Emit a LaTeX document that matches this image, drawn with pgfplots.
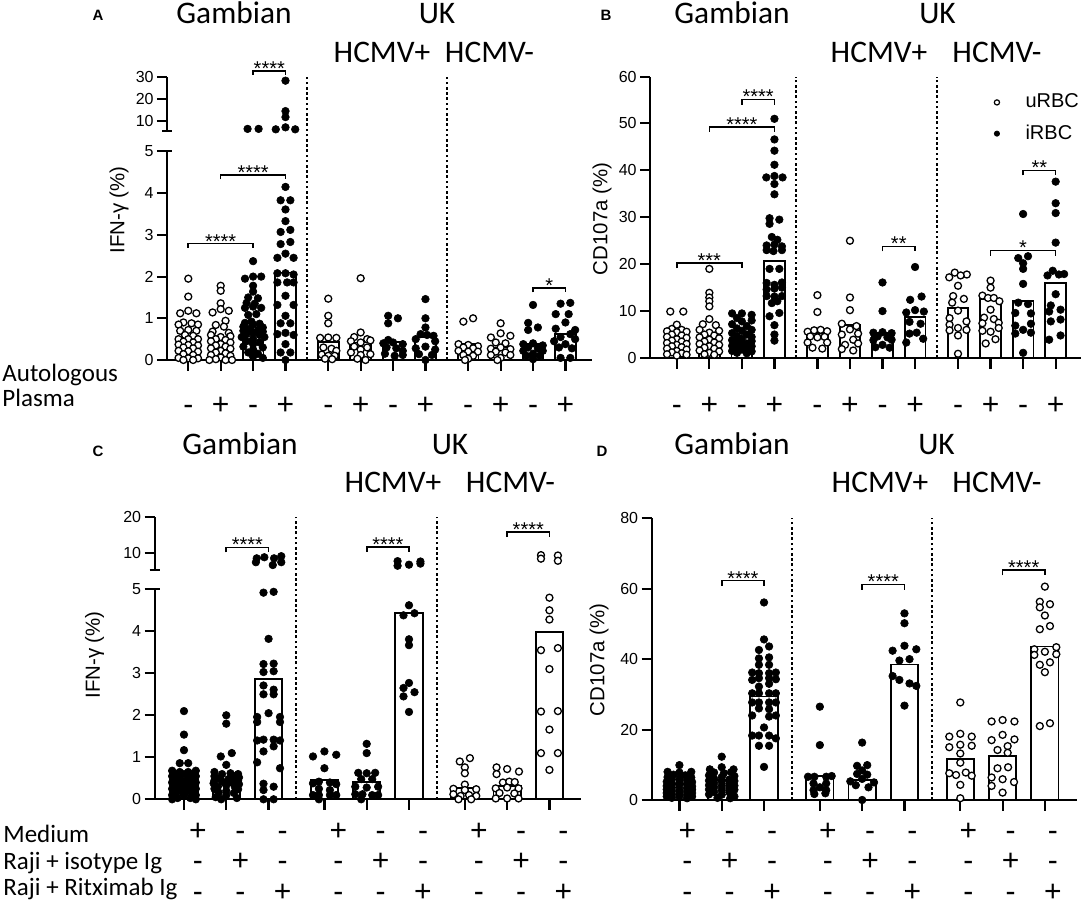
\documentclass[border=0pt]{standalone}
\usepackage{fontspec}
\setmainfont{Liberation Sans}
\newfontfamily\calfont{Carlito}
\usepackage{pgfplots}
\usepackage{pgfplotstable}
\pgfplotsset{compat=1.18}

\newcommand\ttlf{\calfont\fontsize{15.7}{18}\selectfont}
\newcommand\rowf{\calfont\fontsize{12.5}{14}\selectfont}
\newcommand\pmf{\fontsize{15}{17}\selectfont}
\newcommand\tickf{\fontsize{8}{9}\selectfont}
\newcommand\labf{\fontsize{10.2}{12}\selectfont}
\newcommand\starf{\fontsize{10}{12}\selectfont}

% c = category position, d = horizontal jitter, y = value
\pgfplotstableread{
c d y
0 0 1.95
0 0 1.52
0 -0.25 1.12
0 0 1.18
0 0.25 1.12
0 -0.15 0.9
0 0.1 0.88
0 0.3 0.85
0 -0.3 0.85
0 0 0.72
0 -0.25 0.7
0 0.25 0.7
0 -0.1 0.6
0 0.15 0.58
0 -0.3 0.5
0 0 0.5
0 0.3 0.5
0 -0.15 0.44
0 0.15 0.42
0 -0.3 0.37
0 0 0.36
0 0.3 0.35
0 -0.15 0.3
0 0.15 0.28
0 -0.3 0.22
0 0 0.21
0 0.3 0.2
0 -0.15 0.14
0 0.15 0.12
0 -0.3 0.05
0 0 0.04
0 0.3 0.04
0 -0.15 0.0
0 0.15 0.0
1 0 1.78
1 0 1.66
1 0 1.36
1 0 1.22
1 -0.25 1.14
1 0.25 1.18
1 0.15 0.94
1 -0.15 0.84
1 0.1 0.8
1 -0.25 0.68
1 0.25 0.65
1 -0.3 0.6
1 0.3 0.57
1 0 0.55
1 -0.15 0.5
1 0.15 0.48
1 -0.3 0.45
1 0.3 0.42
1 0 0.38
1 -0.15 0.35
1 0.15 0.32
1 -0.3 0.28
1 0.3 0.27
1 0 0.22
1 -0.15 0.18
1 0.15 0.16
1 -0.3 0.12
1 0.3 0.1
1 0 0.06
1 -0.15 0.02
1 0.15 0.0
1 -0.35 0.0
1 0.35 0.0
4.32 0 1.47
4.32 0 1.06
4.32 0 0.88
4.32 -0.25 0.53
4.32 0 0.54
4.32 0.25 0.53
4.32 -0.15 0.3
4.32 0.1 0.27
4.32 0.25 0.22
4.32 -0.2 0.13
4.32 0 0.1
4.32 0.2 0.1
4.32 -0.1 0.03
4.32 0.12 0.02
5.32 0 1.96
5.32 0 0.66
5.32 -0.2 0.55
5.32 0.2 0.5
5.32 -0.3 0.45
5.32 0 0.42
5.32 0.3 0.47
5.32 -0.2 0.32
5.32 0.2 0.3
5.32 0 0.25
5.32 -0.3 0.18
5.32 0.3 0.14
5.32 0 0.12
5.32 -0.1 0.03
5.32 0.15 0.0
8.64 -0.15 0.92
8.64 0.15 1.0
8.64 -0.3 0.38
8.64 0 0.36
8.64 0.3 0.33
8.64 -0.15 0.3
8.64 0.15 0.28
8.64 -0.3 0.22
8.64 0 0.2
8.64 0.3 0.2
8.64 -0.15 0.12
8.64 0.15 0.1
8.64 0 0.03
8.64 -0.1 0.0
9.64 0 0.88
9.64 0 0.64
9.64 0.3 0.58
9.64 -0.3 0.54
9.64 -0.15 0.42
9.64 0.15 0.4
9.64 0 0.3
9.64 -0.3 0.27
9.64 0.3 0.26
9.64 -0.15 0.2
9.64 0.15 0.18
9.64 -0.3 0.12
9.64 0.3 0.12
9.64 0 0.05
9.64 -0.1 0.0
}\Aopen

\pgfplotstableread{
c d y
2 -0.17 6.5
2 0.17 6.5
2 0 2.37
2 -0.25 1.95
2 0 2.0
2 0.25 2.0
2 0 1.78
2 0 1.64
2 -0.15 1.5
2 0.15 1.48
2 -0.2 1.37
2 0.05 1.35
2 -0.25 1.25
2 0 1.28
2 0.25 1.25
2 -0.15 1.08
2 0.1 1.1
2 -0.25 0.89
2 -0.05 0.92
2 0.2 0.87
2 0 0.85
2 -0.3 0.8
2 0.3 0.78
2 -0.1 0.75
2 0.15 0.72
2 -0.3 0.7
2 0.3 0.68
2 0 0.65
2 -0.2 0.62
2 0.2 0.6
2 -0.35 0.55
2 0.35 0.55
2 0 0.5
2 -0.2 0.45
2 0.2 0.42
2 0 0.38
2 -0.3 0.32
2 0.3 0.3
2 0 0.25
2 -0.15 0.18
2 0.15 0.15
2 0 0.08
2 0.3 0.05
3 0 28.2
3 0 14.5
3 0 11.8
3 -0.3 6.3
3 0 7.2
3 0.3 6.3
3 0 4.15
3 -0.15 3.83
3 0.15 3.83
3 0 3.61
3 0 3.33
3 -0.15 3.07
3 0.15 3.12
3 -0.15 2.78
3 0.15 2.83
3 -0.25 2.45
3 0 2.55
3 0.25 2.45
3 -0.25 2.08
3 0 2.08
3 0.25 2.05
3 -0.25 1.86
3 0.05 1.86
3 0.25 1.86
3 0 1.54
3 -0.25 1.32
3 0.25 1.32
3 0 1.06
3 -0.15 0.88
3 0.15 0.88
3 -0.25 0.62
3 0 0.65
3 0.25 0.6
3 0 0.38
3 -0.15 0.18
3 0.15 0.18
3 0 0.0
6.32 -0.15 1.06
6.32 0.15 1.0
6.32 -0.15 0.88
6.32 -0.15 0.48
6.32 -0.3 0.4
6.32 0 0.42
6.32 0.3 0.38
6.32 -0.2 0.3
6.32 0.1 0.28
6.32 0.3 0.22
6.32 -0.25 0.15
6.32 0.05 0.1
6.32 0.3 0.12
7.32 0 1.46
7.32 0 1.0
7.32 0 0.78
7.32 -0.15 0.62
7.32 0.05 0.6
7.32 0.25 0.58
7.32 -0.3 0.5
7.32 0.3 0.45
7.32 0 0.32
7.32 -0.3 0.28
7.32 0.3 0.25
7.32 -0.2 0.14
7.32 0.2 0.12
7.32 0 0.0
10.64 0 1.32
10.64 -0.15 0.89
10.64 0.15 0.78
10.64 -0.15 0.72
10.64 0 0.4
10.64 -0.3 0.38
10.64 0.3 0.35
10.64 -0.15 0.3
10.64 0.15 0.28
10.64 -0.3 0.22
10.64 0.3 0.22
10.64 0 0.15
10.64 -0.2 0.1
10.64 0.2 0.1
10.64 0 0.02
11.64 -0.15 1.35
11.64 0.15 1.37
11.64 -0.3 1.1
11.64 0.1 1.1
11.64 0 0.9
11.64 -0.3 0.75
11.64 0.3 0.72
11.64 0.15 0.62
11.64 -0.15 0.55
11.64 0.3 0.5
11.64 -0.35 0.45
11.64 0 0.38
11.64 -0.2 0.3
11.64 0.2 0.28
11.64 -0.15 0.05
11.64 0.15 0.05
}\Afill

\pgfplotstableread{
c y
0 0.45
1 0.45
2 0.73
3 2.1
4.32 0.43
5.32 0.42
6.32 0.43
7.32 0.56
8.64 0.38
9.64 0.3
10.64 0.38
11.64 0.62
}\Abar

\pgfplotstableread{
c d y
0 -0.2 9.9
0 0.2 9.9
0 0 7.1
0 -0.15 6.2
0 0.15 6.0
0 -0.3 5.7
0 0 5.5
0 0.3 5.6
0 -0.15 5.0
0 0.15 4.8
0 -0.3 4.5
0 0.3 4.3
0 0 4.0
0 -0.15 3.7
0 0.15 3.5
0 -0.3 3.2
0 0.3 3.0
0 0 2.8
0 -0.15 2.5
0 0.15 2.3
0 -0.3 2.0
0 0.3 1.8
0 0 1.5
0 -0.15 1.2
0 0.15 1.0
0 -0.3 0.8
0 0.3 0.7
0 0 0.5
1 0 19.0
1 0 13.9
1 0 12.9
1 0 12.1
1 0 11.0
1 0 8.3
1 -0.2 7.2
1 0.2 7.0
1 -0.3 6.0
1 0.3 5.8
1 0 5.4
1 -0.15 5.0
1 0.15 4.8
1 -0.3 4.4
1 0.3 4.2
1 0 3.9
1 -0.15 3.5
1 0.15 3.3
1 -0.3 3.0
1 0.3 2.8
1 0 2.5
1 -0.15 2.2
1 0.15 2.0
1 -0.3 1.6
1 0.3 1.4
1 0 1.1
1 -0.15 0.8
1 0.15 0.7
4.32 0 13.4
4.32 0 9.8
4.32 -0.3 5.6
4.32 -0.1 5.9
4.32 0.1 6.0
4.32 0.3 5.7
4.32 -0.22 4.6
4.32 0 4.4
4.32 0.22 4.5
4.32 -0.3 3.3
4.32 0.3 3.3
4.32 -0.15 2.2
4.32 0.15 2.0
5.32 0 25.0
5.32 0 12.9
5.32 0 10.2
5.32 -0.25 7.3
5.32 0.2 6.8
5.32 0 6.1
5.32 -0.25 5.0
5.32 0.25 5.2
5.32 0.1 3.9
5.32 -0.15 2.8
5.32 0.25 3.1
5.32 -0.25 1.9
5.32 0.1 1.6
8.64 -0.1 18.2
8.64 0.27 17.8
8.64 0.08 17.6
8.64 -0.27 17.2
8.64 0 15.4
8.64 -0.15 13.2
8.64 0.18 12.6
8.64 -0.18 11.8
8.64 0 10.1
8.64 -0.26 8.5
8.64 0.26 7.8
8.64 -0.26 7.1
8.64 0 6.4
8.64 0.26 6.0
8.64 -0.26 5.9
8.64 0 4.8
8.64 0 0.9
9.64 0 16.5
9.64 0 15.0
9.64 -0.25 13.3
9.64 -0.08 12.8
9.64 0.1 12.8
9.64 0.27 12.1
9.64 0 10.3
9.64 -0.2 8.6
9.64 0.1 8.3
9.64 -0.25 7.4
9.64 0.25 7.5
9.64 0.25 6.4
9.64 -0.25 5.8
9.64 0 5.6
9.64 0.15 4.0
9.64 -0.15 3.1
}\Bopen

\pgfplotstableread{
c d y
2 -0.3 9.5
2 0 9.5
2 0.3 9.2
2 -0.15 8.5
2 0.3 8.0
2 0 7.8
2 -0.3 7.2
2 0.15 6.8
2 -0.15 6.3
2 0.3 6.0
2 0 5.8
2 -0.3 5.3
2 0.15 5.0
2 -0.15 4.7
2 0.3 4.5
2 0 4.1
2 -0.3 3.8
2 0.3 3.6
2 -0.15 3.3
2 0.15 3.1
2 0 2.9
2 -0.3 2.6
2 0.3 2.5
2 -0.15 2.2
2 0.15 2.0
2 0 1.8
2 -0.3 1.5
2 0.3 1.4
2 -0.15 1.1
2 0.15 1.0
3 0 51.0
3 0 46.6
3 0 44.2
3 0 41.2
3 -0.25 38.5
3 0 38.8
3 0.25 38.5
3 0 37.1
3 0 34.9
3 -0.15 29.8
3 0.15 29.5
3 -0.15 28.6
3 -0.08 25.8
3 0.09 25.2
3 -0.24 24.0
3 0 24.2
3 0.23 23.8
3 -0.24 23.0
3 -0.03 22.8
3 0.23 23.0
3 -0.15 19.0
3 0.15 19.0
3 -0.24 16.0
3 0 15.6
3 0.23 16.1
3 -0.24 14.6
3 0 14.8
3 0.23 15.0
3 -0.24 13.2
3 0 13.1
3 0.23 13.2
3 -0.08 11.7
3 0.09 12.1
3 -0.15 8.9
3 0.15 9.6
3 0 7.0
3 0 5.0
3 0 3.7
6.32 0 16.1
6.32 0 10.0
6.32 -0.28 5.4
6.32 0 5.5
6.32 0.28 5.3
6.32 -0.15 4.6
6.32 0.15 4.4
6.32 -0.28 3.8
6.32 0.28 3.9
6.32 0 2.8
6.32 -0.22 2.3
6.32 0.22 2.2
7.32 0 19.4
7.32 0.2 13.1
7.32 -0.15 12.4
7.32 0 10.2
7.32 -0.27 9.7
7.32 0.27 9.9
7.32 -0.17 7.7
7.32 0.17 7.3
7.32 -0.17 5.2
7.32 0.05 5.4
7.32 0.25 4.1
7.32 -0.27 3.3
10.64 0 30.7
10.64 -0.15 21.3
10.64 0.15 21.7
10.64 0 20.2
10.64 0 19.0
10.64 0 15.8
10.64 -0.15 11.8
10.64 0.15 11.5
10.64 -0.24 9.6
10.64 0.24 9.5
10.64 -0.24 6.9
10.64 0.24 7.3
10.64 0 6.0
10.64 -0.24 5.2
10.64 0.24 5.4
10.64 0 1.1
11.64 0 37.6
11.64 0 33.0
11.64 0 30.9
11.64 0 24.6
11.64 -0.25 17.6
11.64 -0.09 18.6
11.64 0.1 17.8
11.64 0.26 17.9
11.64 0 13.6
11.64 -0.15 11.2
11.64 -0.2 9.9
11.64 0.15 10.3
11.64 -0.15 7.8
11.64 0.15 8.2
11.64 0.15 4.8
11.64 -0.2 3.9
}\Bfill

\pgfplotstableread{
c y
0 4.2
1 4.9
2 3.4
3 20.6
4.32 5.3
5.32 7.0
6.32 5.4
7.32 8.7
8.64 10.6
9.64 12.6
10.64 12.1
11.64 16.0
}\Bbar

\pgfplotstableread{
c d y
0 0 2.1
0 0 1.54
0 0 1.17
0 -0.1 0.86
0 0.1 0.86
0 -0.28 0.68
0 0.28 0.68
0 -0.1 0.65
0 0.1 0.65
0 -0.2 0.6
0 0 0.6
0 0.2 0.6
0 -0.28 0.55
0 0.28 0.55
0 -0.1 0.5
0 0.1 0.5
0 -0.2 0.46
0 0.2 0.45
0 0 0.42
0 -0.28 0.4
0 0.28 0.4
0 -0.1 0.35
0 0.1 0.35
0 -0.2 0.3
0 0.2 0.3
0 0 0.26
0 -0.28 0.25
0 0.28 0.25
0 -0.1 0.2
0 0.1 0.2
0 -0.2 0.15
0 0.2 0.15
0 0 0.1
0 -0.28 0.1
0 0.28 0.1
0 -0.15 0.03
0 0.15 0.03
0 -0.28 0.0
0 0.28 0.0
1 0 2.0
1 0 1.8
1 0.13 1.1
1 -0.13 1.02
1 0 0.82
1 -0.28 0.65
1 -0.1 0.6
1 0.1 0.62
1 0.28 0.6
1 -0.28 0.55
1 0.18 0.55
1 0.3 0.52
1 -0.15 0.5
1 0.05 0.48
1 -0.28 0.45
1 0.28 0.45
1 -0.1 0.42
1 0.13 0.4
1 -0.3 0.38
1 0.3 0.36
1 0 0.33
1 -0.2 0.3
1 0.2 0.3
1 -0.28 0.25
1 0.28 0.24
1 0 0.2
1 -0.18 0.16
1 0.18 0.15
1 0 0.1
1 -0.25 0.05
1 0.25 0.03
1 -0.12 0.0
2 -0.28 8.4
2 -0.1 8.7
2 0.13 8.4
2 0.3 9.0
2 -0.3 7.3
2 0.1 6.5
2 0.3 7.3
2 -0.12 4.92
2 0.12 4.94
2 0 3.82
2 -0.12 3.22
2 0.12 3.23
2 -0.12 3.03
2 0.12 3.05
2 -0.12 2.71
2 0.12 2.61
2 -0.12 2.5
2 0.12 2.5
2 -0.27 1.96
2 0 2.05
2 0.27 1.96
2 -0.27 1.84
2 0.27 1.84
2 -0.27 1.4
2 -0.12 1.42
2 0.12 1.42
2 0.27 1.4
2 -0.12 1.14
2 0.12 1.26
2 -0.27 0.88
2 0.27 0.74
2 -0.12 0.37
2 0.12 0.3
2 -0.12 0.22
2 -0.12 0.0
2 0.12 0.0
3.32 -0.27 1.02
3.32 0 1.14
3.32 0.28 1.06
3.32 0 0.74
3.32 -0.27 0.38
3.32 -0.13 0.42
3.32 0.13 0.4
3.32 0.28 0.36
3.32 -0.13 0.25
3.32 0.13 0.22
3.32 -0.27 0.1
3.32 -0.13 0.1
3.32 0.13 0.1
3.32 0.28 0.1
3.32 -0.13 0.0
4.32 0 1.32
4.32 0 1.1
4.32 -0.2 0.63
4.32 0 0.62
4.32 0.2 0.63
4.32 -0.13 0.48
4.32 0.13 0.48
4.32 -0.27 0.3
4.32 0 0.28
4.32 0.27 0.3
4.32 -0.27 0.12
4.32 -0.1 0.12
4.32 0.13 0.1
4.32 0.27 0.1
4.32 -0.13 0.0
5.32 -0.27 7.6
5.32 -0.27 6.3
5.32 0 6.6
5.32 0.27 7.5
5.32 0.27 6.9
5.32 0 4.62
5.32 -0.13 4.38
5.32 0.13 4.43
5.32 0 3.81
5.32 0 3.67
5.32 0 2.77
5.32 -0.13 2.65
5.32 0.13 2.55
5.32 -0.13 2.45
5.32 0 2.08
}\Cfill

\pgfplotstableread{
c d y
6.64 -0.12 0.9
6.64 0.12 0.98
6.64 0 0.76
6.64 0 0.62
6.64 0 0.35
6.64 -0.27 0.25
6.64 0 0.22
6.64 0.27 0.24
6.64 -0.27 0.12
6.64 -0.1 0.08
6.64 0.1 0.1
6.64 0.27 0.08
6.64 -0.15 0.0
6.64 0.15 0.0
7.64 -0.25 0.76
7.64 -0.25 0.6
7.64 0 0.72
7.64 0.28 0.66
7.64 -0.1 0.4
7.64 0.05 0.42
7.64 0.18 0.41
7.64 -0.27 0.26
7.64 0 0.28
7.64 0.27 0.26
7.64 -0.18 0.15
7.64 0.17 0.14
7.64 -0.27 0.02
7.64 0 0.02
7.64 0.27 0.02
8.64 -0.2 9.3
8.64 -0.2 8.3
8.64 0.2 9.2
8.64 0.2 7.7
8.64 0 4.8
8.64 0 4.5
8.64 0 4.28
8.64 -0.2 3.55
8.64 0.2 3.6
8.64 0 3.1
8.64 -0.2 2.09
8.64 0.2 2.1
8.64 0 1.66
8.64 -0.2 1.1
8.64 0.2 1.1
8.64 0 0.7
}\Copen

\pgfplotstableread{
c y
0 0.47
1 0.45
2 2.87
3.32 0.45
4.32 0.41
5.32 4.43
6.64 0.27
7.64 0.32
8.64 3.98
}\Cbar

\pgfplotstableread{
c d y
0 0 9.9
0 -0.28 8.0
0 0 7.8
0 0.28 8.0
0 -0.14 7.2
0 0.14 7.0
0 -0.28 6.5
0 0.28 6.4
0 0 6.0
0 -0.18 5.8
0 0.18 5.6
0 -0.3 5.2
0 0 5.0
0 0.3 5.1
0 -0.18 4.6
0 0.18 4.5
0 -0.3 4.0
0 0 4.1
0 0.3 3.9
0 -0.18 3.5
0 0.18 3.4
0 -0.3 3.0
0 0 2.9
0 0.3 3.0
0 -0.18 2.5
0 0.18 2.4
0 -0.3 2.0
0 0 1.9
0 0.3 2.0
0 -0.18 1.5
0 0.18 1.4
0 -0.3 1.0
0 0 1.0
0 0.3 1.0
0 -0.18 0.6
0 0.18 0.5
1 0 12.3
1 0 9.3
1 -0.28 8.7
1 0.28 8.7
1 -0.18 7.8
1 0.05 7.6
1 0.22 7.9
1 -0.3 7.0
1 0.3 6.8
1 0 6.5
1 -0.18 6.0
1 0.18 5.8
1 -0.3 5.5
1 0 5.3
1 0.3 5.4
1 -0.18 4.8
1 0.18 4.6
1 -0.3 4.2
1 0 4.0
1 0.3 4.1
1 -0.18 3.6
1 0.18 3.4
1 -0.3 3.0
1 0 2.8
1 0.3 2.9
1 -0.18 2.3
1 0.18 2.2
1 -0.3 1.6
1 0 1.5
1 0.3 1.0
1 -0.1 0.6
1 0.2 0.5
2 0 56.1
2 0 45.6
2 -0.12 42.6
2 0.12 43.6
2 -0.12 40.2
2 0.12 40.5
2 -0.12 38.4
2 0.12 38.4
2 -0.28 36.2
2 -0.12 36.0
2 0.12 36.0
2 0.28 36.2
2 -0.28 34.1
2 -0.12 34.6
2 0.12 34.6
2 0.28 34.3
2 -0.12 32.2
2 0.12 33.0
2 -0.28 30.3
2 -0.12 30.3
2 0.12 30.3
2 0.28 30.3
2 -0.28 27.7
2 -0.12 27.7
2 0.12 27.7
2 0.28 27.7
2 -0.12 26.0
2 0.12 25.8
2 -0.28 24.0
2 0.12 23.7
2 0.28 24.0
2 0 20.6
2 -0.28 18.3
2 -0.12 18.3
2 0.12 18.3
2 0.28 17.5
2 -0.12 15.4
2 0.12 15.4
2 0 9.4
3.32 0 26.5
3.32 0 15.6
3.32 -0.28 6.6
3.32 -0.13 6.6
3.32 0.15 6.6
3.32 0.28 6.8
3.32 -0.15 4.7
3.32 0.15 4.7
3.32 0 3.6
3.32 -0.15 2.8
3.32 0.15 2.8
3.32 -0.13 1.7
3.32 0.13 1.9
4.32 0 16.3
4.32 -0.12 9.7
4.32 0.12 9.9
4.32 0 8.4
4.32 -0.12 7.4
4.32 0.12 7.2
4.32 -0.28 5.3
4.32 0 6.0
4.32 0.28 5.0
4.32 -0.15 4.2
4.32 0.15 3.6
4.32 0 0.0
5.32 0 53.0
5.32 0 50.2
5.32 -0.28 42.4
5.32 0 43.8
5.32 0.28 42.8
5.32 -0.12 39.6
5.32 0.12 40.0
5.32 -0.28 35.2
5.32 -0.12 34.1
5.32 0.12 33.1
5.32 0.28 32.4
5.32 0 26.8
}\Dfill

\pgfplotstableread{
c d y
6.64 0 27.7
6.64 -0.26 18.0
6.64 0 18.8
6.64 0.27 18.0
6.64 -0.26 15.0
6.64 0 15.7
6.64 0.27 15.4
6.64 0 13.2
6.64 0 10.6
6.64 -0.26 7.6
6.64 -0.1 7.1
6.64 0.13 7.8
6.64 0.27 6.9
6.64 0 4.3
6.64 0 0.5
7.64 -0.26 22.3
7.64 0 22.7
7.64 0.28 22.3
7.64 -0.26 17.0
7.64 0 18.5
7.64 0.28 17.2
7.64 -0.12 14.2
7.64 0.12 15.3
7.64 0.12 13.4
7.64 -0.12 9.0
7.64 0.13 9.3
7.64 -0.26 6.4
7.64 0 5.9
7.64 0.27 5.1
7.64 -0.26 4.0
7.64 0 2.1
8.64 0 60.6
8.64 -0.12 56.3
8.64 -0.12 54.7
8.64 0.12 55.6
8.64 0 52.4
8.64 0.12 49.4
8.64 -0.12 48.5
8.64 0.27 43.4
8.64 -0.25 42.8
8.64 0 42.1
8.64 -0.25 41.2
8.64 0.27 41.4
8.64 -0.12 38.4
8.64 0.12 39.1
8.64 0 36.3
8.64 -0.12 21.0
8.64 0.12 21.8
}\Dopen

\pgfplotstableread{
c y
0 4.5
1 5.7
2 29.4
3.32 6.9
4.32 5.6
5.32 38.5
6.64 11.6
7.64 12.6
8.64 43.6
}\Dbar

\pgfplotsset{
  panel/.style={scale only axis, clip=false,
    axis x line*=bottom, axis y line*=left,
    axis line style={line width=1pt},
    tick align=outside, major tick length=5pt,
    every tick/.style={black, line width=1pt},
    xtick=\empty,
    yticklabel style={font=\tickf, inner sep=1.5pt},
    /pgf/number format/assume math mode=true},
  upper/.style={scale only axis, clip=false,
    axis x line=none, axis y line*=left,
    axis line style={line width=1pt},
    tick align=outside, major tick length=5pt,
    every tick/.style={black, line width=1pt},
    xtick=\empty,
    yticklabel style={font=\tickf, inner sep=1.5pt},
    /pgf/number format/assume math mode=true},
  bars/.style={ybar, bar shift=0pt, draw=black, fill=white, line width=0.9pt, forget plot},
  op/.style={only marks, mark=*, mark size=1.75pt,
    mark options={fill=white, draw=black, line width=0.65pt}, forget plot},
  fl/.style={only marks, mark=*, mark size=1.9pt,
    mark options={fill=black, draw=black, line width=0.3pt}, forget plot},
}

% category tick below the x axis
\newcommand\xtk[1]{\draw[line width=1.1pt] (axis cs:#1,0) -- ++(0pt,-5.4pt);}
\newcommand\brk[5]{%
  \draw[line width=0.8pt] (axis cs:#1,{#3-#4}) -- (axis cs:#1,#3) -- (axis cs:#2,#3) -- (axis cs:#2,{#3-#4});
  \node[font=\starf, anchor=base, inner sep=0pt, yshift=-2.2pt] at (axis cs:{(#1+#2)/2},#3) {#5};}
\newcommand\sep[2]{\draw[line width=1pt, dash pattern=on 1.3pt off 1.3pt] (axis cs:#1,0) -- (axis cs:#1,#2);}
\newcommand\pmA[3]{\node[font=\pmf, anchor=base, inner sep=0pt, yshift=#3] at (axis cs:#1,0) {#2};}
% three rows of +/- under a category: x, row1, row2, row3, xshift, row3 depth
\newcommand\pmC[6]{%
  \node[font=\pmf, anchor=base, inner sep=0pt, xshift=#5, yshift=-20.5pt] at (axis cs:#1,0) {#2};
  \node[font=\pmf, anchor=base, inner sep=0pt, xshift=#5, yshift=-35.5pt] at (axis cs:#1,0) {#3};
  \node[font=\pmf, anchor=base, inner sep=0pt, xshift=#5, yshift=-#6] at (axis cs:#1,0) {#4};}

\begin{document}
\begin{tikzpicture}
\path[use as bounding box] (0,0) rectangle (541.5pt,454.5pt);

% ---------------- panel A ----------------
\begin{axis}[panel, at={(83.5pt,274.5pt)}, anchor=south west,
  width=212.5pt, height=104.25pt, xmin=-0.657, xmax=12.46, ymin=0, ymax=5,
  ytick={0,1,2,3,4,5}]
\addplot[bars, bar width=10.35pt] table[x=c, y=y] {\Abar};
\addplot[op, restrict y to domain=-1:5.3] table[x expr=\thisrow{c}+\thisrow{d}, y=y] {\Aopen};
\addplot[fl, restrict y to domain=-1:5.3] table[x expr=\thisrow{c}+\thisrow{d}, y=y] {\Afill};
\xtk{0}\xtk{1}\xtk{2}\xtk{3}\xtk{4.32}\xtk{5.32}\xtk{6.32}\xtk{7.32}
\xtk{8.64}\xtk{9.64}\xtk{10.64}\xtk{11.64}
\sep{3.66}{6.79}
\sep{7.98}{6.79}
\brk{0}{2}{2.79}{0.1}{****}
\brk{1}{3}{4.43}{0.1}{****}
\brk{10.64}{11.64}{1.72}{0.1}{*}
\pmA{0}{-}{-27.5pt}\pmA{1}{+}{-27.5pt}\pmA{2}{-}{-27.5pt}\pmA{3}{+}{-27.5pt}
\pmA{4.32}{-}{-27.5pt}\pmA{5.32}{+}{-27.5pt}\pmA{6.32}{-}{-27.5pt}\pmA{7.32}{+}{-27.5pt}
\pmA{8.64}{-}{-27.5pt}\pmA{9.64}{+}{-27.5pt}\pmA{10.64}{-}{-27.5pt}\pmA{11.64}{+}{-27.5pt}
\end{axis}
\begin{axis}[upper, at={(83.5pt,389pt)}, anchor=south west,
  width=212.5pt, height=27.15pt, xmin=-0.657, xmax=12.46, ymin=5.55, ymax=30,
  ytick={10,20,30}]
\addplot[op, restrict y to domain=5.4:100] table[x expr=\thisrow{c}+\thisrow{d}, y=y] {\Aopen};
\addplot[fl, restrict y to domain=5.4:100] table[x expr=\thisrow{c}+\thisrow{d}, y=y] {\Afill};
\brk{2}{3}{32.6}{1.8}{****}
\end{axis}
\draw[line width=1pt] (81pt,389pt) -- (86pt,389pt);
\draw[line width=1pt] (83.5pt,378.75pt) -- (86pt,378.75pt);

% ---------------- panel B ----------------
\begin{axis}[panel, at={(325pt,275.5pt)}, anchor=south west,
  width=215.5pt, height=140.7pt, xmin=-0.823, xmax=12.418, ymin=0, ymax=60,
  ytick={0,10,...,60},
  legend style={draw=none, fill=none, at={(0.798,0.954)}, anchor=north west,
    font=\fontsize{10}{12}\selectfont, inner sep=0pt, row sep=3pt,
    /tikz/every odd column/.append style={column sep=11pt}},
  legend cell align=left]
\addplot[bars, bar width=10.35pt] table[x=c, y=y] {\Bbar};
\addplot[op] table[x expr=\thisrow{c}+\thisrow{d}, y=y] {\Bopen};
\addplot[fl] table[x expr=\thisrow{c}+\thisrow{d}, y=y] {\Bfill};
\addlegendimage{only marks, mark=*, mark size=1.3pt, mark options={fill=white, draw=black, line width=0.6pt}}
\addlegendentry{uRBC}
\addlegendimage{only marks, mark=*, mark size=1.3pt, mark options={fill=black}}
\addlegendentry{iRBC}
\xtk{0}\xtk{1}\xtk{2}\xtk{3}\xtk{4.32}\xtk{5.32}\xtk{6.32}\xtk{7.32}
\xtk{8.64}\xtk{9.64}\xtk{10.64}\xtk{11.64}
\sep{3.66}{60}
\sep{7.98}{60}
\brk{0}{2}{20.2}{1.07}{***}
\brk{1}{3}{49.3}{1.07}{****}
\brk{2}{3}{55.1}{1.07}{****}
\brk{6.32}{7.32}{23.8}{1.07}{**}
\brk{9.64}{11.64}{22.9}{1.07}{*}
\brk{10.64}{11.64}{40.0}{1.07}{**}
\pmA{0}{-}{-28.5pt}\pmA{1}{+}{-28.5pt}\pmA{2}{-}{-28.5pt}\pmA{3}{+}{-28.5pt}
\pmA{4.32}{-}{-28.5pt}\pmA{5.32}{+}{-28.5pt}\pmA{6.32}{-}{-28.5pt}\pmA{7.32}{+}{-28.5pt}
\pmA{8.64}{-}{-28.5pt}\pmA{9.64}{+}{-28.5pt}\pmA{10.64}{-}{-28.5pt}\pmA{11.64}{+}{-28.5pt}
\end{axis}

% ---------------- panel C ----------------
\begin{axis}[panel, at={(77.25pt,54.85pt)}, anchor=south west,
  width=213.25pt, height=105pt, xmin=-0.697, xmax=9.386, ymin=0, ymax=5,
  ytick={0,1,2,3,4,5}]
\addplot[bars, bar width=13.65pt] table[x=c, y=y] {\Cbar};
\addplot[fl, restrict y to domain=-1:5.05] table[x expr=\thisrow{c}+\thisrow{d}, y=y] {\Cfill};
\addplot[op, restrict y to domain=-1:5.05] table[x expr=\thisrow{c}+\thisrow{d}, y=y] {\Copen};
\xtk{0}\xtk{1}\xtk{2}\xtk{3.32}\xtk{4.32}\xtk{5.32}\xtk{6.64}\xtk{7.64}\xtk{8.64}
\sep{2.66}{6.72}
\sep{5.98}{6.72}
\pmC{0}{+}{-}{-}{7pt}{51.3pt}\pmC{1}{-}{+}{-}{7pt}{51.3pt}\pmC{2}{-}{-}{+}{7pt}{51.3pt}
\pmC{3.32}{+}{-}{-}{7pt}{51.3pt}\pmC{4.32}{-}{+}{-}{7pt}{51.3pt}\pmC{5.32}{-}{-}{+}{7pt}{51.3pt}
\pmC{6.64}{+}{-}{-}{7pt}{51.3pt}\pmC{7.64}{-}{+}{-}{7pt}{51.3pt}\pmC{8.64}{-}{-}{+}{7pt}{51.3pt}
\end{axis}
\begin{axis}[upper, at={(77.25pt,169.5pt)}, anchor=south west,
  width=213.25pt, height=26.35pt, xmin=-0.697, xmax=9.386, ymin=5.1, ymax=20,
  ytick={10,20}]
\addplot[fl, restrict y to domain=5.1:100] table[x expr=\thisrow{c}+\thisrow{d}, y=y] {\Cfill};
\addplot[op, restrict y to domain=5.1:100] table[x expr=\thisrow{c}+\thisrow{d}, y=y] {\Copen};
\brk{1}{2}{11.5}{1.4}{****}
\brk{4.32}{5.32}{11.6}{1.4}{****}
\brk{7.64}{8.64}{15.8}{1.4}{****}
\end{axis}
\draw[line width=1pt] (74.75pt,169.5pt) -- (79.75pt,169.5pt);
\draw[line width=1pt] (77.25pt,159.85pt) -- (79.75pt,159.85pt);

% ---------------- panel D ----------------
\begin{axis}[panel, at={(325.75pt,54.5pt)}, anchor=south west,
  width=212.6pt, height=140.85pt, xmin=-0.66, xmax=9.392, ymin=0, ymax=80,
  ytick={0,20,...,80}]
\addplot[bars, bar width=13.65pt] table[x=c, y=y] {\Dbar};
\addplot[fl] table[x expr=\thisrow{c}+\thisrow{d}, y=y] {\Dfill};
\addplot[op] table[x expr=\thisrow{c}+\thisrow{d}, y=y] {\Dopen};
\xtk{0}\xtk{1}\xtk{2}\xtk{3.32}\xtk{4.32}\xtk{5.32}\xtk{6.64}\xtk{7.64}\xtk{8.64}
\sep{2.66}{80}
\sep{5.98}{80}
\brk{1}{2}{62.3}{1.5}{****}
\brk{4.32}{5.32}{61.2}{1.5}{****}
\brk{7.64}{8.64}{65.3}{1.5}{****}
\pmC{0}{+}{-}{-}{4pt}{51pt}\pmC{1}{-}{+}{-}{4pt}{51pt}\pmC{2}{-}{-}{+}{4pt}{51pt}
\pmC{3.32}{+}{-}{-}{4pt}{51pt}\pmC{4.32}{-}{+}{-}{4pt}{51pt}\pmC{5.32}{-}{-}{+}{4pt}{51pt}
\pmC{6.64}{+}{-}{-}{4pt}{51pt}\pmC{7.64}{-}{+}{-}{4pt}{51pt}\pmC{8.64}{-}{-}{+}{4pt}{51pt}
\end{axis}

% ---------------- titles and labels ----------------
\node[font=\bfseries\fontsize{7.5}{9}\selectfont] at (49pt,446.75pt) {A};
\node[font=\bfseries\fontsize{7.5}{9}\selectfont] at (303pt,446.75pt) {B};
\node[font=\bfseries\fontsize{7.5}{9}\selectfont] at (49pt,229pt) {C};
\node[font=\bfseries\fontsize{7.5}{9}\selectfont] at (301pt,229pt) {D};

\node[font=\ttlf, anchor=base] at (117pt,442.5pt) {Gambian};
\node[font=\ttlf, anchor=base] at (218.5pt,442.5pt) {UK};
\node[font=\ttlf, anchor=base] at (191pt,423.25pt) {HCMV+};
\node[font=\ttlf, anchor=base] at (244.75pt,423.25pt) {HCMV-};

\node[font=\ttlf, anchor=base] at (366pt,442.5pt) {Gambian};
\node[font=\ttlf, anchor=base] at (468.75pt,442.5pt) {UK};
\node[font=\ttlf, anchor=base] at (439.5pt,423.25pt) {HCMV+};
\node[font=\ttlf, anchor=base] at (498.5pt,423.25pt) {HCMV-};

\node[font=\ttlf, anchor=base] at (120pt,227pt) {Gambian};
\node[font=\ttlf, anchor=base] at (225pt,227pt) {UK};
\node[font=\ttlf, anchor=base] at (196.5pt,208pt) {HCMV+};
\node[font=\ttlf, anchor=base] at (255.25pt,208pt) {HCMV-};

\node[font=\ttlf, anchor=base] at (366pt,227pt) {Gambian};
\node[font=\ttlf, anchor=base] at (468.25pt,227pt) {UK};
\node[font=\ttlf, anchor=base] at (440pt,208pt) {HCMV+};
\node[font=\ttlf, anchor=base] at (498.5pt,208pt) {HCMV-};

\node[font=\labf, rotate=90] at (59.5pt,349.5pt) {IFN-γ (\%)};
\node[font=\labf, rotate=90] at (301pt,345pt) {CD107a (\%)};
\node[font=\labf, rotate=90] at (47.35pt,127pt) {IFN-γ (\%)};
\node[font=\labf, rotate=90] at (299.5pt,124.5pt) {CD107a (\%)};

\node[font=\rowf, anchor=base west, inner sep=0pt] at (1pt,263.5pt) {Autologous};
\node[font=\rowf, anchor=base west, inner sep=0pt] at (1pt,251pt) {Plasma};
\node[font=\rowf, anchor=base west, inner sep=0pt] at (1.5pt,33pt) {Medium};
\node[font=\rowf, anchor=base west, inner sep=0pt] at (1.5pt,19.5pt) {Raji + isotype Ig};
\node[font=\rowf, anchor=base west, inner sep=0pt] at (1.5pt,6.5pt) {Raji + Ritximab Ig};
\end{tikzpicture}
\end{document}
